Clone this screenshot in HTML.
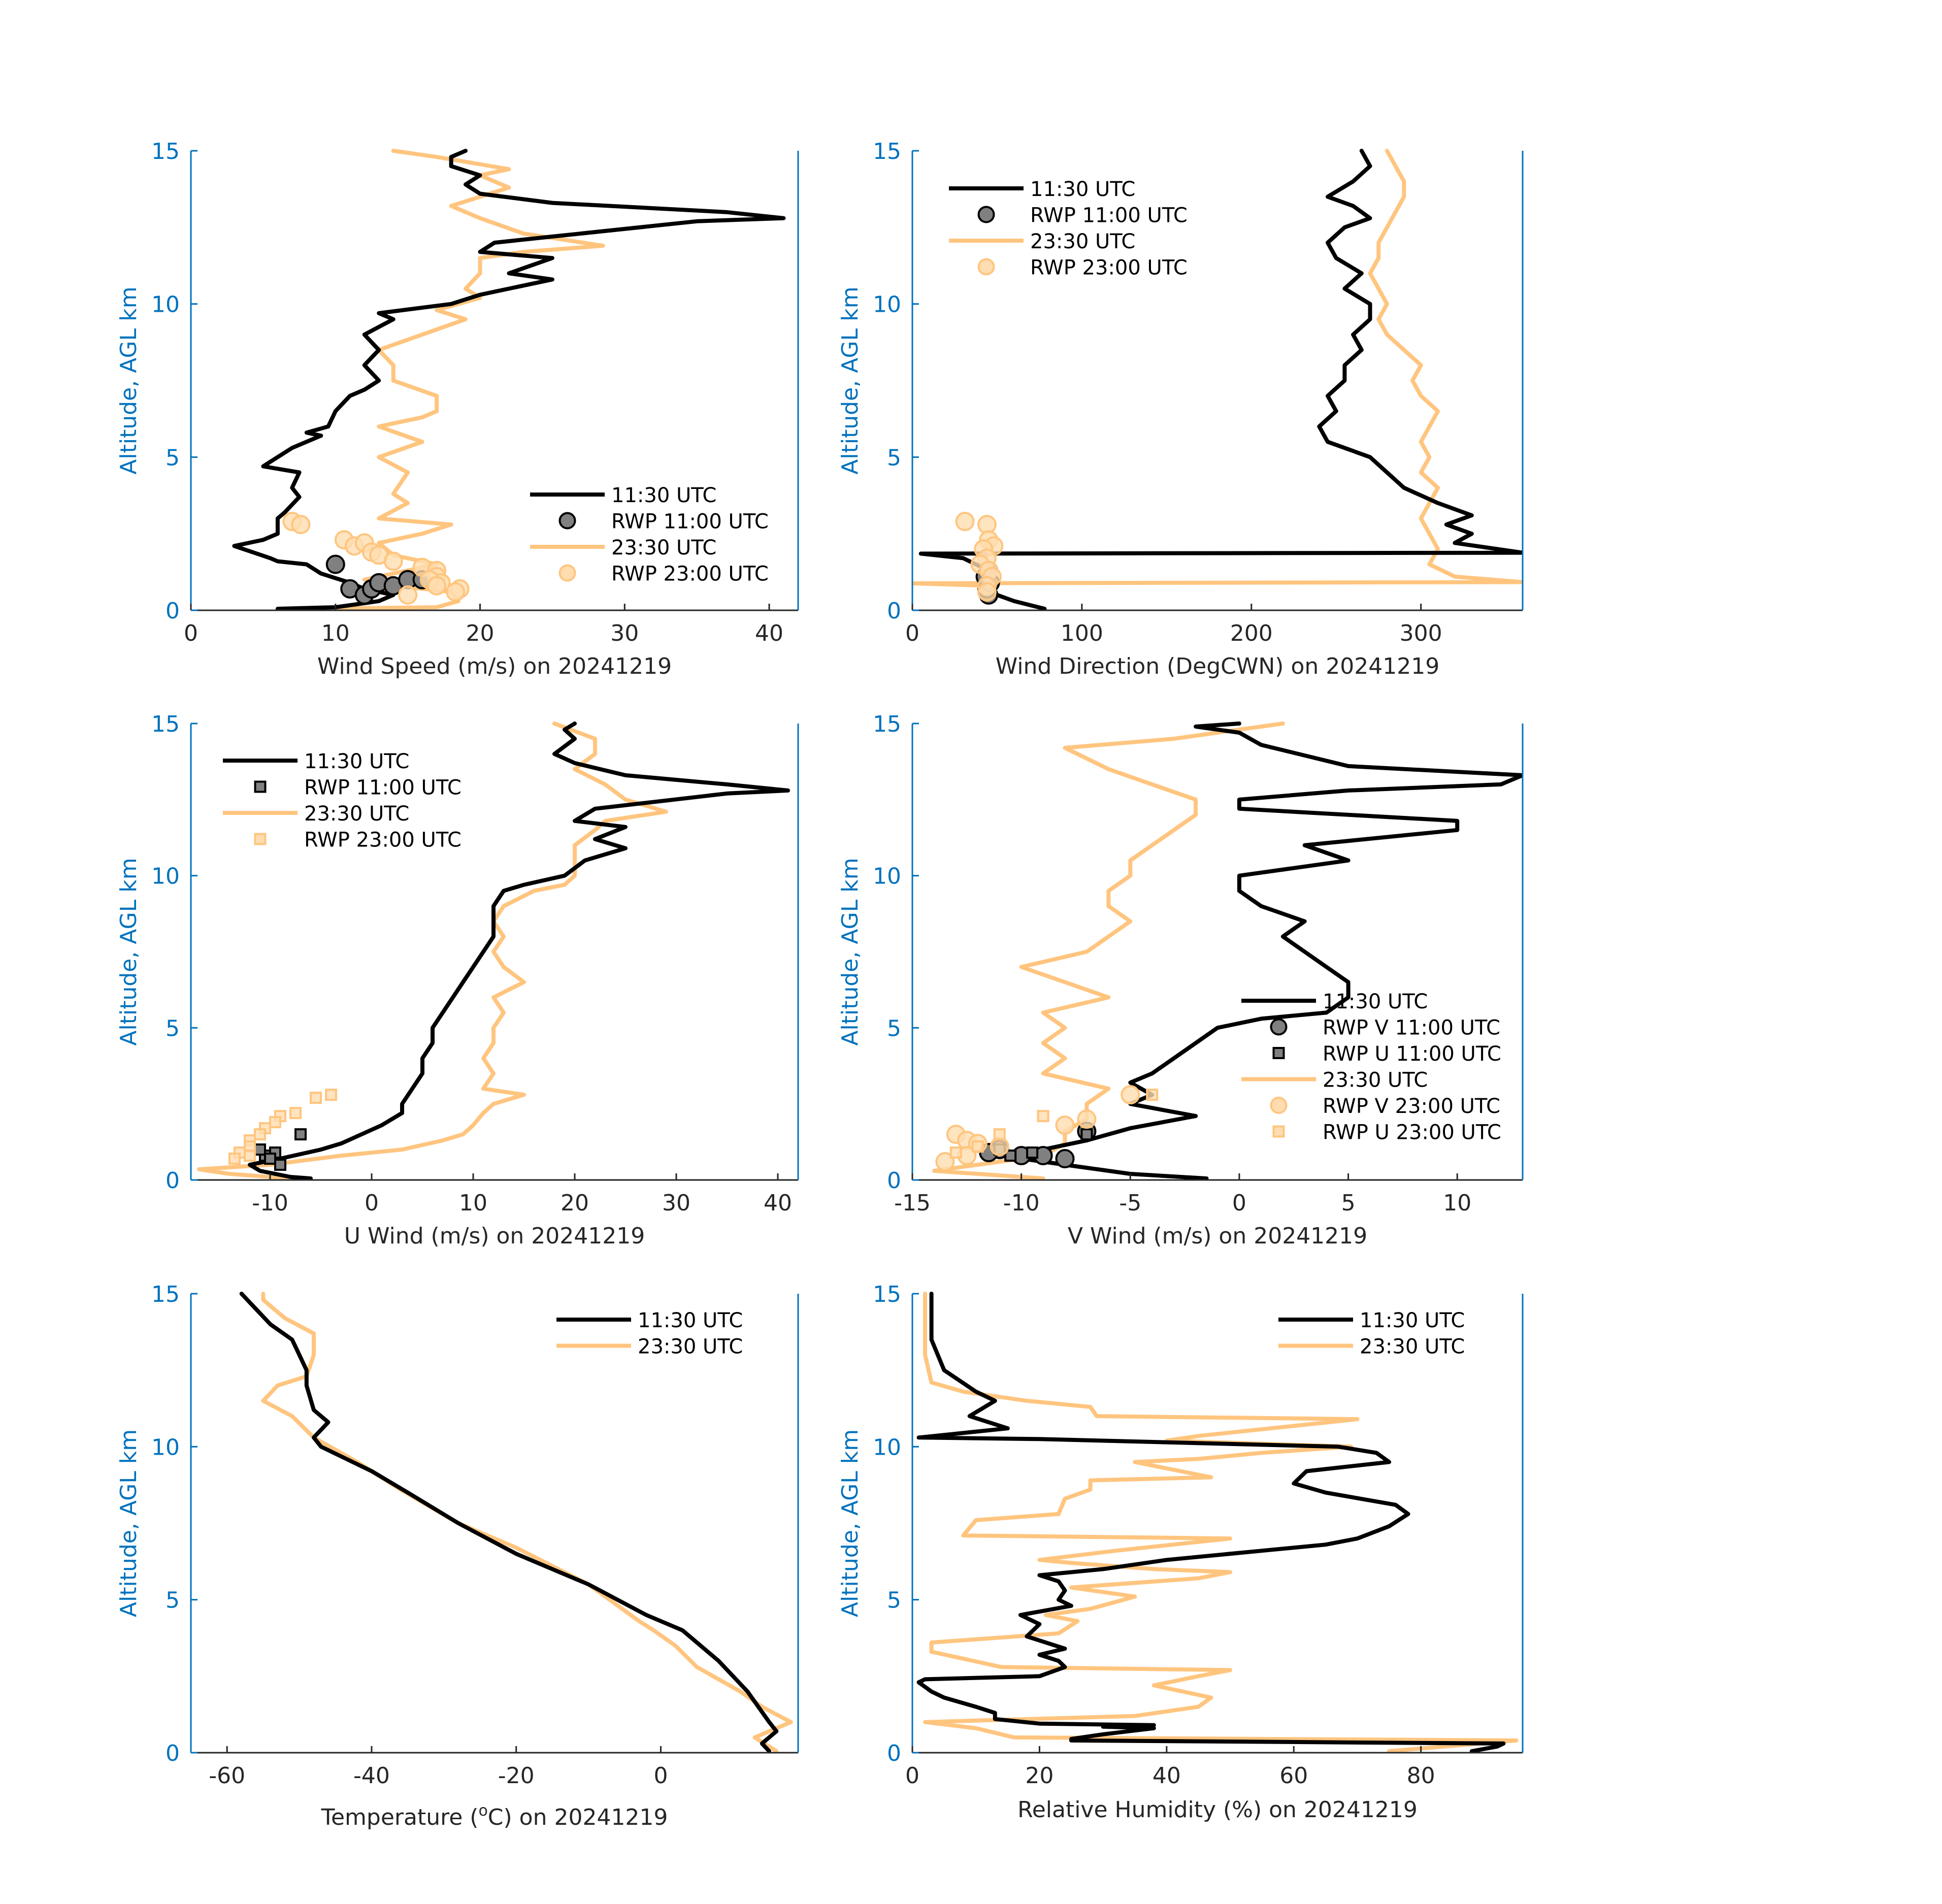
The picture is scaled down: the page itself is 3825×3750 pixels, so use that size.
<!DOCTYPE html>
<html><head><meta charset="utf-8"><style>
html,body{margin:0;padding:0;background:#fff;}
svg{display:block;font-family:"DejaVu Sans","Liberation Sans",sans-serif;}
</style></head><body>
<svg id="fig" width="3825" height="3750" viewBox="0 0 3825 3750" xmlns="http://www.w3.org/2000/svg"></svg>
<script>
// ---------- data (value, altitude km) ----------
const wsBlack=[[6,0.05],[10,0.1],[13,0.3],[14,0.5],[12,0.7],[11,0.9],[9,1.2],[8,1.5],[6,1.6],[5.5,1.7],[3,2.1],[5,2.3],[6,2.5],[6,3],[6.5,3.2],[7.5,3.7],[7,4],[7.5,4.5],[5,4.7],[6,5],[7,5.3],[9,5.7],[8,5.8],[9.5,6],[10,6.5],[11,7],[12,7.2],[13,7.5],[12,8],[13,8.5],[12,9],[14,9.5],[13,9.7],[18,10],[20,10.3],[22,10.5],[25,10.8],[22,11],[25,11.5],[20,11.7],[21,12],[25,12.2],[35,12.7],[41,12.8],[37,13],[25,13.3],[20,13.6],[19,13.9],[20,14.2],[18,14.5],[18,14.8],[19,15]];
const wsOrange=[[8,0.05],[17,0.1],[18.5,0.3],[18,0.6],[14,0.8],[12,1],[14,1.2],[17,1.5],[14,1.8],[13,2.2],[16,2.5],[18,2.8],[13,3],[15,3.5],[14,3.8],[15,4.5],[13,5],[16,5.5],[13,6],[16,6.3],[17,6.5],[17,7],[14,7.5],[14,8],[13,8.5],[16,9],[19,9.5],[17,9.8],[20,10.2],[19,10.5],[20,11],[20,11.5],[23,11.7],[28.5,11.9],[23,12.3],[20,12.8],[18,13.2],[22,13.8],[20,14.2],[22,14.4],[17,14.8],[14,15]];
const wsRwp11=[[10,1.5],[11,0.7],[12,0.5],[12.5,0.7],[13,0.9],[14,0.8],[15,1.0],[16,1.0]];
const wsRwp23=[[7,2.9],[7.6,2.8],[10.6,2.3],[11.3,2.1],[12,2.2],[12.5,1.9],[13,1.8],[14,1.6],[16,1.4],[17,1.3],[17,1.1],[17.3,0.9],[16.5,1.0],[18.6,0.7],[18.3,0.6],[15,0.5],[17,0.8]];

const wdBlack=[[78,0.05],[60,0.3],[45,0.6],[40,1.0],[45,1.3],[30,1.7],[5,1.85],[360,1.88],[320,2.2],[330,2.5],[315,2.8],[330,3.1],[310,3.5],[290,4],[280,4.5],[270,5],[245,5.5],[240,6],[250,6.5],[245,7],[255,7.5],[255,8],[265,8.5],[260,9],[270,9.5],[270,10],[255,10.5],[265,11],[250,11.5],[245,12],[255,12.5],[270,12.8],[260,13.2],[245,13.5],[260,14],[270,14.5],[265,15]];
const wdOrange=[[48,0.3],[45,0.5],[45,0.8],[0,0.88],[360,0.92],[320,1.1],[305,1.5],[310,2],[305,2.5],[300,3],[305,3.5],[310,4],[300,4.5],[305,5],[300,5.5],[305,6],[310,6.5],[300,7],[295,7.5],[300,8],[290,8.5],[280,9],[275,9.5],[280,10],[275,10.5],[270,11],[275,11.5],[275,12],[280,12.5],[285,13],[290,13.5],[290,14],[285,14.5],[280,15]];
const wdRwp11=[[45,0.5],[44,0.7],[46,0.9],[43,1.1],[45,1.3]];
const wdRwp23=[[31,2.9],[44,2.8],[45,2.3],[48,2.1],[42,2],[44,1.7],[40,1.5],[45,1.3],[47,1.1],[44,0.8],[44,0.6]];

const uBlack=[[-6,0.05],[-8,0.1],[-11,0.3],[-12,0.5],[-9,0.7],[-5,1.0],[-3,1.2],[-1,1.5],[1,1.8],[3,2.2],[3,2.5],[4,3],[5,3.5],[5,4],[6,4.5],[6,5],[7,5.5],[8,6],[9,6.5],[10,7],[11,7.5],[12,8],[12,8.5],[12,9],[13,9.5],[15,9.7],[19,10],[21,10.5],[25,10.9],[22,11.2],[25,11.6],[20,11.8],[22,12.2],[35,12.7],[41,12.8],[35,13],[25,13.3],[20,13.7],[18,14],[20,14.5],[19,14.8],[20,15]];
const uOrange=[[-8,0.05],[-14,0.2],[-17,0.35],[-10,0.5],[-3,0.8],[3,1.0],[7,1.3],[9,1.5],[10,1.8],[11,2.2],[12,2.5],[15,2.8],[11,3],[12,3.5],[11,4],[12,4.5],[12,5],[13,5.5],[12,6],[15,6.5],[13,7],[12,7.5],[13,8],[12,8.5],[13,9],[16,9.5],[19,9.7],[20,10],[20,10.5],[20,11],[22,11.5],[23,11.8],[29,12.1],[25,12.5],[23,13],[20,13.5],[22,14],[22,14.5],[18,15]];
const uRwp11=[[-7,1.5],[-9.5,0.9],[-10.5,0.8],[-10,0.7],[-11,1.0],[-9,0.5]];
const uRwp23=[[-4,2.8],[-5.5,2.7],[-7.5,2.2],[-9,2.1],[-9.5,1.9],[-10.5,1.7],[-11,1.5],[-12,1.3],[-12,1.1],[-13,0.9],[-13.5,0.7],[-12,0.8]];

const vBlack=[[-1.5,0.05],[-5,0.2],[-7,0.4],[-9,0.6],[-11,0.8],[-9,1.0],[-7,1.3],[-5,1.7],[-2,2.1],[-5,2.5],[-4,2.8],[-5,3.2],[-4,3.5],[-3,4],[-2,4.5],[-1,5],[1,5.3],[4,5.5],[5,6],[5,6.5],[4,7],[3,7.5],[2,8],[3,8.5],[1,9],[0,9.5],[0,10],[5,10.5],[3,11],[10,11.5],[10,11.8],[0,12.2],[0,12.5],[5,12.8],[12,13],[13,13.3],[5,13.6],[1,14.3],[0,14.7],[-2,14.9],[0,15]];
const vOrange=[[-9,0.05],[-14,0.3],[-12,0.5],[-9,0.8],[-8,1.2],[-8,1.6],[-7,2],[-7,2.5],[-6,3],[-9,3.5],[-8,4],[-9,4.5],[-8,5],[-9,5.5],[-6,6],[-8,6.5],[-10,7],[-7,7.5],[-6,8],[-5,8.5],[-6,9],[-6,9.5],[-5,10],[-5,10.5],[-4,11],[-3,11.5],[-2,12],[-2,12.5],[-4,13],[-6,13.5],[-8,14.2],[-3,14.5],[0,14.8],[2,15]];
const vRwpV11=[[-7,1.6],[-10,0.8],[-11,1.0],[-9,0.8],[-8,0.7],[-11.5,0.9]];
const vRwpU11=[[-7,1.5],[-9.5,0.9],[-10.5,0.8],[-11,1.0]];
const vRwpV23=[[-13,1.5],[-12.5,1.3],[-12,1.2],[-11,1.1],[-8,1.8],[-7,2.0],[-5,2.8],[-12.5,0.8],[-13.5,0.6]];
const vRwpU23=[[-4,2.8],[-9,2.1],[-11,1.5],[-13,0.9],[-12,1.1]];

const tBlack=[[15,0.05],[14,0.3],[16,0.7],[15,1],[12,2],[8,3],[3,4],[-2,4.5],[-10,5.5],[-20,6.5],[-28,7.5],[-35,8.5],[-40,9.2],[-47,10],[-48,10.3],[-46,10.8],[-48,11.2],[-49,12],[-49,12.5],[-50,13],[-51,13.5],[-54,14],[-56,14.5],[-58,15]];
const tOrange=[[16,0.05],[13,0.5],[18,1],[14,1.5],[11,2],[5,2.8],[2,3.5],[-1,4],[-3,4.3],[-10,5.5],[-20,6.7],[-28,7.5],[-36,8.6],[-42,9.5],[-48,10.3],[-51,11],[-55,11.5],[-53,12],[-49,12.3],[-48,13],[-48,13.7],[-52,14.2],[-55,14.8],[-55,15]];

const rhBlack=[[88,0.05],[92,0.2],[93,0.3],[25,0.4],[25,0.45],[30,0.6],[34,0.7],[38,0.8],[30,0.85],[38,0.9],[20,0.95],[13,1.1],[13,1.3],[10,1.5],[5,1.8],[3,2.0],[1,2.3],[2,2.4],[20,2.5],[24,2.8],[23,3],[20,3.2],[24,3.4],[18,3.8],[20,4.2],[17,4.5],[25,4.8],[23,5],[24,5.3],[23,5.6],[20,5.8],[30,6.0],[40,6.3],[55,6.6],[65,6.8],[70,7],[75,7.4],[78,7.8],[76,8.1],[65,8.5],[60,8.8],[62,9.2],[75,9.5],[73,9.8],[67,10.0],[20,10.25],[1,10.3],[15,10.6],[9,11],[13,11.5],[10,11.8],[5,12.5],[3,13.5],[3,14.3],[3,15]];
const rhOrange=[[75,0.05],[95,0.4],[16,0.5],[10,0.8],[2,1],[35,1.2],[45,1.5],[47,1.8],[38,2.2],[45,2.5],[50,2.7],[14,2.8],[3,3.3],[3,3.6],[23,3.9],[26,4.3],[21,4.5],[28,4.7],[35,5.1],[25,5.4],[45,5.7],[50,5.9],[38,6.0],[25,6.2],[20,6.3],[32,6.6],[50,7],[8,7.1],[10,7.6],[23,7.8],[24,8.3],[28,8.6],[28,8.9],[47,9.0],[35,9.5],[45,9.6],[55,9.8],[69,10.0],[40,10.2],[45,10.35],[70,10.9],[29,11.0],[28,11.3],[18,11.5],[8,11.8],[3,12.1],[2,13],[2,14],[2,15]];

const altTicks=[0,5,10,15];
const wsTicks=[0,10,20,30,40];
const wdTicks=[0,100,200,300];
const uTicks=[-10,0,10,20,30,40];
const vTicks=[-15,-10,-5,0,5,10];
const tTicks=[-60,-40,-20,0];
const rhTicks=[0,20,40,60,80];

// ---------- drawing ----------
const NS="http://www.w3.org/2000/svg";
const svg=document.getElementById('fig');
const BLUE="#0072BD", AX="#262626", BLK="#000000", ORG="#FFC57F";
function mk(tag,attrs,parent){const e=document.createElementNS(NS,tag);for(const k in attrs)e.setAttribute(k,attrs[k]);(parent||svg).appendChild(e);return e;}

function panel(cfg){
  const g=mk('g',{});
  
  
  const L=cfg.L,R=cfg.R,T=cfg.T,B=cfg.B;
  const sx=v=>L+(v-cfg.xmin)/(cfg.xmax-cfg.xmin)*(R-L);
  const sy=a=>B-a/15*(B-T);
  const clip='clip-'+cfg.name;
  const cp=mk('clipPath',{id:clip},g);mk('rect',{x:L,y:T-6,width:R-L,height:B-T+12},cp);
  // series lines
  const plot=mk('g',{'clip-path':'url(#'+clip+')'},g);
  cfg.lines.forEach(s=>{
    const p=mk('polyline',{points:s.d.map(q=>sx(q[0]).toFixed(1)+','+sy(q[1]).toFixed(1)).join(' '),fill:'none',stroke:s.c,'stroke-width':8,'stroke-linejoin':'round','stroke-linecap':'round'},plot);
    
    
  });
  (cfg.marks||[]).forEach(s=>{
    const mg=mk('g',{},plot);
    
    
    s.d.forEach(q=>{
      let m;
      if(s.shape==='c') m=mk('circle',{cx:sx(q[0]),cy:sy(q[1]),r:s.r||17,fill:s.f,stroke:s.e,'stroke-width':4,'fill-opacity':s.op||1},mg);
      else m=mk('rect',{x:sx(q[0])-10,y:sy(q[1])-10,width:20,height:20,fill:s.f,stroke:s.e,'stroke-width':4,'fill-opacity':s.op||1},mg);
      
      
    });
  });
  // axes
  const xa=mk('line',{x1:L,y1:B,x2:R,y2:B,stroke:AX,'stroke-width':3},g);
  
  const ya=mk('line',{x1:L,y1:T,x2:L,y2:B,stroke:BLUE,'stroke-width':3},g);
  
  const yr=mk('line',{x1:R,y1:T,x2:R,y2:B,stroke:BLUE,'stroke-width':3},g);
  
  cfg.xt.forEach(v=>{
    mk('line',{x1:sx(v),y1:B,x2:sx(v),y2:B-13,stroke:AX,'stroke-width':3},g);
    const t=mk('text',{x:sx(v),y:B+60,'font-size':44,fill:AX,'text-anchor':'middle'},g);
    t.textContent=String(v);
    
  });
  altTicks.forEach(a=>{
    mk('line',{x1:L,y1:sy(a),x2:L+13,y2:sy(a),stroke:BLUE,'stroke-width':3},g);
    const t=mk('text',{x:L-22,y:sy(a)+16,'font-size':44,fill:BLUE,'text-anchor':'end'},g);
    t.textContent=String(a);
    
  });
  const yl=mk('text',{x:0,y:0,'font-size':44,fill:BLUE,'text-anchor':'middle',transform:'translate('+(L-108)+','+((T+B)/2)+') rotate(-90)'},g);
  yl.textContent='Altitude, AGL km';
  
  const xl=mk('text',{x:(L+R)/2,y:cfg.xly,'font-size':44,fill:AX,'text-anchor':'middle'},g);
  if(cfg.sup){xl.appendChild(document.createTextNode('Temperature ('));const ts=mk('tspan',{dy:-18,'font-size':30},xl);ts.textContent='o';const t2=mk('tspan',{dy:18},xl);t2.textContent='C) on 20241219';}
  else xl.textContent=cfg.xlabel;
  
  // legend
  const lg=mk('g',{},g);
  
  cfg.leg.items.forEach((it,i)=>{
    const y=cfg.leg.y+i*51.5;
    const x0=cfg.leg.x, x1=x0+147;
    if(it.t==='l') mk('line',{x1:x0,y1:y,x2:x1,y2:y,stroke:it.c,'stroke-width':8},lg);
    else if(it.t==='c') mk('circle',{cx:(x0+x1)/2,cy:y,r:15,fill:it.f,stroke:it.e,'stroke-width':4},lg);
    else mk('rect',{x:(x0+x1)/2-10,y:y-10,width:20,height:20,fill:it.f,stroke:it.e,'stroke-width':4},lg);
    const t=mk('text',{x:x1+13,y:y+15,'font-size':40,fill:BLK},lg);
    t.textContent=it.s;
    
  });
}
const C1={L:376,R:1572},C2={L:1797,R:2999};
const R1={T:297,B:1202},R2={T:1425,B:2324},R3={T:2548,B:3452};
const GF="#808080",OF="#FFDDB0";
const leg4=[{t:'l',c:BLK,s:'11:30 UTC'},{t:'c',f:GF,e:BLK,s:'RWP 11:00 UTC'},{t:'l',c:ORG,s:'23:30 UTC'},{t:'c',f:OF,e:ORG,s:'RWP 23:00 UTC'}];
panel({name:'wind-speed-panel',...C1,...R1,xmin:0,xmax:42,xt:wsTicks,xlabel:'Wind Speed (m/s) on 20241219',xly:1327,
  lines:[{d:wsOrange,c:ORG,n:'wind-speed-2330'},{d:wsBlack,c:BLK,n:'wind-speed-1130'}],
  marks:[{d:wsRwp11,shape:'c',f:GF,e:BLK,n:'rwp-speed-1100'},{d:wsRwp23,shape:'c',f:OF,e:ORG,op:0.8,n:'rwp-speed-2300'}],
  leg:{x:1044,y:974,items:leg4}});
panel({name:'wind-direction-panel',...C2,...R1,xmin:0,xmax:360,xt:wdTicks,xlabel:'Wind Direction (DegCWN) on 20241219',xly:1327,
  lines:[{d:wdOrange,c:ORG,n:'wind-dir-2330'},{d:wdBlack,c:BLK,n:'wind-dir-1130'}],
  marks:[{d:wdRwp11,shape:'c',f:GF,e:BLK,n:'rwp-dir-1100'},{d:wdRwp23,shape:'c',f:OF,e:ORG,op:0.8,n:'rwp-dir-2300'}],
  leg:{x:1869,y:371,items:leg4}});
panel({name:'u-wind-panel',...C1,...R2,xmin:-17.8,xmax:42,xt:uTicks,xlabel:'U Wind (m/s) on 20241219',xly:2449,
  lines:[{d:uOrange,c:ORG,n:'u-wind-2330'},{d:uBlack,c:BLK,n:'u-wind-1130'}],
  marks:[{d:uRwp11,shape:'s',f:GF,e:BLK,n:'rwp-u-1100'},{d:uRwp23,shape:'s',f:OF,e:ORG,op:0.8,n:'rwp-u-2300'}],
  leg:{x:439,y:1498,items:[{t:'l',c:BLK,s:'11:30 UTC'},{t:'s',f:GF,e:BLK,s:'RWP 11:00 UTC'},{t:'l',c:ORG,s:'23:30 UTC'},{t:'s',f:OF,e:ORG,s:'RWP 23:00 UTC'}]}});
panel({name:'v-wind-panel',...C2,...R2,xmin:-15,xmax:13,xt:vTicks,xlabel:'V Wind (m/s) on 20241219',xly:2449,
  lines:[{d:vOrange,c:ORG,n:'v-wind-2330'},{d:vBlack,c:BLK,n:'v-wind-1130'}],
  marks:[{d:vRwpV11,shape:'c',f:GF,e:BLK,n:'rwp-v-1100'},{d:vRwpU11,shape:'s',f:GF,e:BLK,n:'rwp-u-1100-v'},{d:vRwpV23,shape:'c',f:OF,e:ORG,op:0.8,n:'rwp-v-2300'},{d:vRwpU23,shape:'s',f:OF,e:ORG,op:0.8,n:'rwp-u-2300-v'}],
  leg:{x:2445,y:1971,items:[{t:'l',c:BLK,s:'11:30 UTC'},{t:'c',f:GF,e:BLK,s:'RWP V 11:00 UTC'},{t:'s',f:GF,e:BLK,s:'RWP U 11:00 UTC'},{t:'l',c:ORG,s:'23:30 UTC'},{t:'c',f:OF,e:ORG,s:'RWP V 23:00 UTC'},{t:'s',f:OF,e:ORG,s:'RWP U 23:00 UTC'}]}});
panel({name:'temperature-panel',...C1,...R3,xmin:-65,xmax:19,xt:tTicks,sup:true,xly:3594,
  lines:[{d:tOrange,c:ORG,n:'temperature-2330'},{d:tBlack,c:BLK,n:'temperature-1130'}],
  leg:{x:1096,y:2599,items:[{t:'l',c:BLK,s:'11:30 UTC'},{t:'l',c:ORG,s:'23:30 UTC'}]}});
panel({name:'humidity-panel',...C2,...R3,xmin:0,xmax:96,xt:rhTicks,xlabel:'Relative Humidity (%) on 20241219',xly:3579,
  lines:[{d:rhOrange,c:ORG,n:'humidity-2330'},{d:rhBlack,c:BLK,n:'humidity-1130'}],
  leg:{x:2518,y:2599,items:[{t:'l',c:BLK,s:'11:30 UTC'},{t:'l',c:ORG,s:'23:30 UTC'}]}});
</script>
</body></html>
